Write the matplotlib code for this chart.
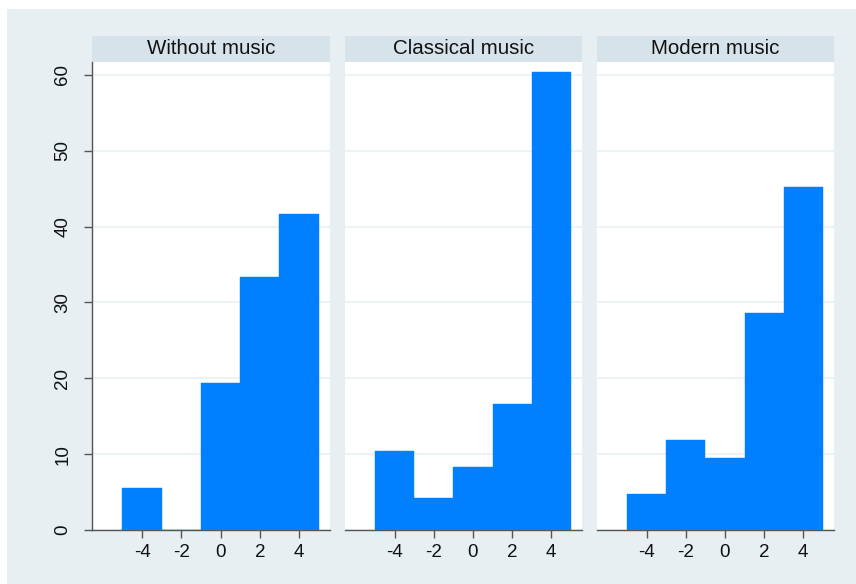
import numpy as np
import matplotlib.pyplot as plt
from matplotlib.patches import Rectangle

plt.rcParams['font.family'] = ['Liberation Sans', 'DejaVu Sans']

# histogram bins (width 2, from -5 to 5) and percent per bin for each group
bin_edges = [-5, -3, -1, 1, 3, 5]
groups = ["Without music", "Classical music", "Modern music"]
without_music = [5.56, 0.0, 19.44, 33.33, 41.67]
classical_music = [10.42, 4.17, 8.33, 16.67, 60.42]
modern_music = [4.76, 11.90, 9.52, 28.57, 45.24]
percents = [without_music, classical_music, modern_music]

y_ticks = [0, 10, 20, 30, 40, 50, 60]
x_ticks = [-4, -2, 0, 2, 4]

BG = "#e8eff2"
STRIP = "#d7e3ea"
BAR = "#0080ff"
GRID = "#eaf1f2"
AXIS = "#555555"

W, H = 856, 584
fig = plt.figure(figsize=(W / 100, H / 100), dpi=100)
fig.patch.set_facecolor("white")
fig.patches.append(Rectangle((7 / W, 0), 1, 1 - 9 / H, transform=fig.transFigure,
                             facecolor=BG, edgecolor="none", zorder=-10))

panel_x = [(92, 330), (345, 582), (597, 834)]
top_px, bottom_px, strip_top = 62, 530, 36

for i, (name, vals) in enumerate(zip(groups, percents)):
    x0, x1 = panel_x[i]
    ax = fig.add_axes([x0 / W, (H - bottom_px) / H, (x1 - x0) / W, (bottom_px - top_px) / H])
    ax.set_facecolor("white")

    lefts = np.array(bin_edges[:-1])
    widths = np.diff(bin_edges)
    ax.bar(lefts, vals, width=widths, align="edge", color=BAR,
           edgecolor=BAR, linewidth=0.3, zorder=3)

    ax.set_xlim(-6.55, 5.58)
    ax.set_ylim(0, 61.7)
    ax.set_xticks(x_ticks)
    ax.set_xticklabels([str(t) for t in x_ticks], fontsize=13.5, color="#111111")
    ax.set_yticks(y_ticks)
    for t in y_ticks:
        ax.axhline(t, color=GRID, linewidth=1.2, zorder=1)

    for side in ["top", "right"]:
        ax.spines[side].set_visible(False)
    ax.spines["bottom"].set_color(AXIS)
    ax.spines["bottom"].set_linewidth(1.0)
    ax.tick_params(axis="x", direction="out", length=6, width=1, color=AXIS, pad=4)

    if i == 0:
        ax.spines["left"].set_color(AXIS)
        ax.spines["left"].set_linewidth(1.0)
        ax.set_yticklabels([str(t) for t in y_ticks], fontsize=13.5,
                           rotation=90, va="center", color="#111111")
        ax.tick_params(axis="y", direction="out", length=6, width=1, color=AXIS, pad=9)
    else:
        ax.spines["left"].set_visible(False)
        ax.tick_params(axis="y", left=False, labelleft=False)

    # group title strip above each panel
    fig.patches.append(Rectangle((x0 / W, (H - top_px) / H), (x1 - x0) / W,
                                 (top_px - strip_top) / H, transform=fig.transFigure,
                                 facecolor=STRIP, edgecolor="none", zorder=-5))
    fig.text((x0 + x1) / 2 / W, (H - (top_px + strip_top) / 2) / H, name,
             ha="center", va="center", fontsize=14.8, color="#111111")

fig.savefig("out.png", dpi=100)
